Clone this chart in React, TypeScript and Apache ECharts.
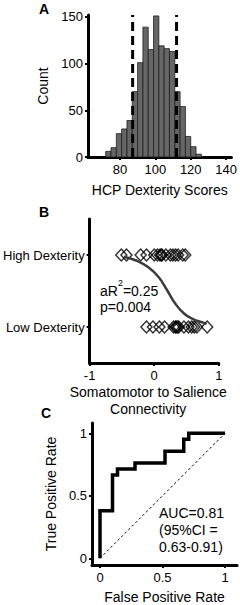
import React, { useEffect, useRef } from "react";
import * as echarts from "echarts";

// ---------- Panel A: histogram ----------
const binStarts = [72, 75, 78, 81, 84, 87, 90, 93, 96, 99, 102, 105, 108, 111, 114, 117, 120, 123];
const binWidth = 3;
const binCounts = [6, 10, 25, 30, 39, 70, 101, 139, 115, 151, 119, 116, 113, 70, 54, 22, 11, 3];
const cutoffs = [87.2, 112.0];
const histXTicks = [80, 100, 120, 140];
const histYTicks = [0, 50, 100, 150];

// ---------- Panel B: logistic ----------
const highX = [-0.51, -0.43, -0.21, -0.12, 0.0, 0.05, 0.09, 0.11, 0.12, 0.18, 0.25, 0.29, 0.33, 0.37, 0.44, 0.48];
const lowX = [-0.12, -0.02, 0.08, 0.16, 0.3, 0.33, 0.34, 0.36, 0.38, 0.46, 0.53, 0.58, 0.62, 0.66, 0.82];
const curveX = [-0.47, -0.27, -0.09, 0.07, 0.2, 0.33, 0.47, 0.6, 0.76, 0.81];
const curveY = [0.976, 0.92, 0.83, 0.69, 0.51, 0.32, 0.18, 0.11, 0.06, 0.04];
const groupLabels = ["Low Dexterity", "High Dexterity"];
const connXTicks = [-1, 0, 1];

// ---------- Panel C: ROC ----------
const rocFPR = [0, 0, 0.1, 0.14, 0.28, 0.52, 0.67, 0.71, 1];
const rocTPR = [0, 0.381, 0.667, 0.714, 0.762, 0.857, 0.952, 1, 1];
const rocTicks = [0, 0.5, 1];

const FONT = "'Liberation Sans', Arial, Helvetica, sans-serif";

const axisCommon = {
  axisLine: { show: true, onZero: false, lineStyle: { color: "#000", width: 3 } },
  axisTick: { show: true, inside: false, length: 3, lineStyle: { color: "#000", width: 2 } },
  splitLine: { show: false },
};

const labelStyle = { color: "#000", fontSize: 13, fontFamily: FONT };
const nameStyle = { color: "#000", fontSize: 14, fontFamily: FONT };

export default function App() {
  const ref = useRef<HTMLDivElement>(null);
  useEffect(() => {
    if (!ref.current) return;
    const chart = echarts.init(ref.current, null, { renderer: "svg" });

    const histData = binStarts.map((s, i) => [s, s + binWidth, binCounts[i]]);

    const option: any = {
      animation: false,
      backgroundColor: "#fff",
      grid: [
        { left: 88, top: 15, width: 148, height: 142 },
        { left: 88, top: 219, width: 149, height: 144 },
        { left: 92, top: 423, width: 145, height: 142 },
      ],
      xAxis: [
        {
          ...axisCommon,
          gridIndex: 0,
          type: "value",
          min: 62,
          max: 143,
          axisTick: { ...axisCommon.axisTick, customValues: histXTicks },
          axisLabel: { ...labelStyle, margin: 6, customValues: histXTicks },
          name: "HCP Dexterity Scores",
          nameLocation: "middle",
          nameGap: 26,
          nameTextStyle: nameStyle,
        },
        {
          ...axisCommon,
          gridIndex: 1,
          type: "value",
          min: -1,
          max: 1,
          axisTick: { ...axisCommon.axisTick, customValues: connXTicks },
          axisLabel: { ...labelStyle, margin: 6, customValues: connXTicks },
          name: "Somatomotor to Salience\nConnectivity",
          nameLocation: "middle",
          nameGap: 20,
          nameTextStyle: { ...nameStyle, lineHeight: 17, padding: [0, 12, 0, 0] },
        },
        {
          ...axisCommon,
          gridIndex: 2,
          type: "value",
          min: -0.064,
          max: 1.096,
          axisTick: { ...axisCommon.axisTick, customValues: rocTicks },
          axisLabel: { ...labelStyle, margin: 6, customValues: rocTicks, formatter: (v: number) => String(v) },
          name: "False Positive Rate",
          nameLocation: "middle",
          nameGap: 25,
          nameTextStyle: nameStyle,
        },
      ],
      yAxis: [
        {
          ...axisCommon,
          gridIndex: 0,
          type: "value",
          min: 0,
          max: 152,
          axisTick: { ...axisCommon.axisTick, customValues: histYTicks },
          axisLabel: { ...labelStyle, margin: 5, customValues: histYTicks },
          name: "Count",
          nameLocation: "middle",
          nameGap: 31,
          nameTextStyle: nameStyle,
        },
        {
          ...axisCommon,
          gridIndex: 1,
          type: "value",
          min: -0.5,
          max: 1.5,
          axisTick: { ...axisCommon.axisTick, customValues: [0, 1] },
          axisLabel: {
            ...labelStyle,
            margin: 5,
            customValues: [0, 1],
            formatter: (v: number) => groupLabels[Math.round(v)] ?? "",
          },
        },
        {
          ...axisCommon,
          gridIndex: 2,
          type: "value",
          min: -0.054,
          max: 1.083,
          axisTick: { ...axisCommon.axisTick, customValues: rocTicks },
          axisLabel: { ...labelStyle, margin: 5, customValues: rocTicks, formatter: (v: number) => String(v) },
          name: "True Positive Rate",
          nameLocation: "middle",
          nameGap: 25,
          nameTextStyle: nameStyle,
        },
      ],
      series: [
        {
          type: "custom",
          xAxisIndex: 0,
          yAxisIndex: 0,
          data: histData,
          encode: { x: [0, 1], y: 2 },
          renderItem: (params: any, api: any) => {
            const s = api.value(0);
            const e = api.value(1);
            const c = api.value(2);
            const p0 = api.coord([s, c]);
            const p1 = api.coord([e, 0]);
            return {
              type: "rect",
              shape: { x: p0[0], y: p0[1], width: p1[0] - p0[0], height: p1[1] - p0[1] },
              style: { fill: "#666666", stroke: "#1e1e1e", lineWidth: 0.8 },
            };
          },
          silent: true,
        },
        ...cutoffs.map((c) => ({
          type: "line",
          xAxisIndex: 0,
          yAxisIndex: 0,
          data: [
            [c, 0],
            [c, 152],
          ],
          symbol: "none",
          lineStyle: { color: "#000", width: 3, type: [9, 5] },
          silent: true,
        })),
        {
          type: "scatter",
          xAxisIndex: 1,
          yAxisIndex: 1,
          data: highX.map((x) => [x, 1]),
          symbol: "diamond",
          symbolSize: [11, 12],
          itemStyle: { color: "rgba(0,0,0,0)", borderColor: "#000", borderWidth: 1.5 },
          silent: true,
        },
        {
          type: "scatter",
          xAxisIndex: 1,
          yAxisIndex: 1,
          data: lowX.map((x) => [x, 0]),
          symbol: "diamond",
          symbolSize: [11, 12],
          itemStyle: { color: "rgba(0,0,0,0)", borderColor: "#000", borderWidth: 1.5 },
          silent: true,
        },
        {
          type: "line",
          xAxisIndex: 1,
          yAxisIndex: 1,
          data: curveX.map((x, i) => [x, curveY[i]]),
          smooth: true,
          symbol: "none",
          lineStyle: { color: "#3c3c3c", width: 2.5 },
          silent: true,
        },
        {
          type: "line",
          xAxisIndex: 2,
          yAxisIndex: 2,
          data: [
            [0, 0],
            [1, 1],
          ],
          symbol: "none",
          lineStyle: { color: "#000", width: 1, type: [2.5, 2.5] },
          silent: true,
        },
        {
          type: "line",
          xAxisIndex: 2,
          yAxisIndex: 2,
          data: rocFPR.map((x, i) => [x, rocTPR[i]]),
          step: "end",
          symbol: "none",
          lineStyle: { color: "#000", width: 3.5, join: "miter" },
          silent: true,
        },
      ],
      graphic: [
        { type: "text", left: 39, top: 2, style: { text: "A", font: `bold 14px ${FONT}`, fill: "#000" } },
        { type: "text", left: 39, top: 205, style: { text: "B", font: `bold 14px ${FONT}`, fill: "#000" } },
        { type: "text", left: 41, top: 406, style: { text: "C", font: `bold 14px ${FONT}`, fill: "#000" } },
        {
          type: "text",
          left: 100,
          top: 278,
          style: {
            text: "{a|aR}{s|2}{a|=0.25}",
            rich: {
              a: { fontSize: 14, fontFamily: FONT, fill: "#000", lineHeight: 20, verticalAlign: "bottom" },
              s: { fontSize: 9, fontFamily: FONT, fill: "#000", lineHeight: 20, verticalAlign: "top" },
            },
          },
        },
        {
          type: "text",
          left: 100,
          top: 300,
          style: { text: "p=0.004", font: `14px ${FONT}`, fill: "#000" },
        },
        {
          type: "text",
          left: 159,
          top: 504,
          style: { text: "AUC=0.81\n(95%CI =\n0.63-0.91)", font: `14px ${FONT}`, fill: "#000", lineHeight: 17 },
        },
      ],
    };

    chart.setOption(option);
    return () => chart.dispose();
  }, []);

  return (
    <div
      ref={ref}
      style={{ position: "fixed", left: 0, top: 0, width: 240, height: 605, background: "#fff" }}
    />
  );
}
